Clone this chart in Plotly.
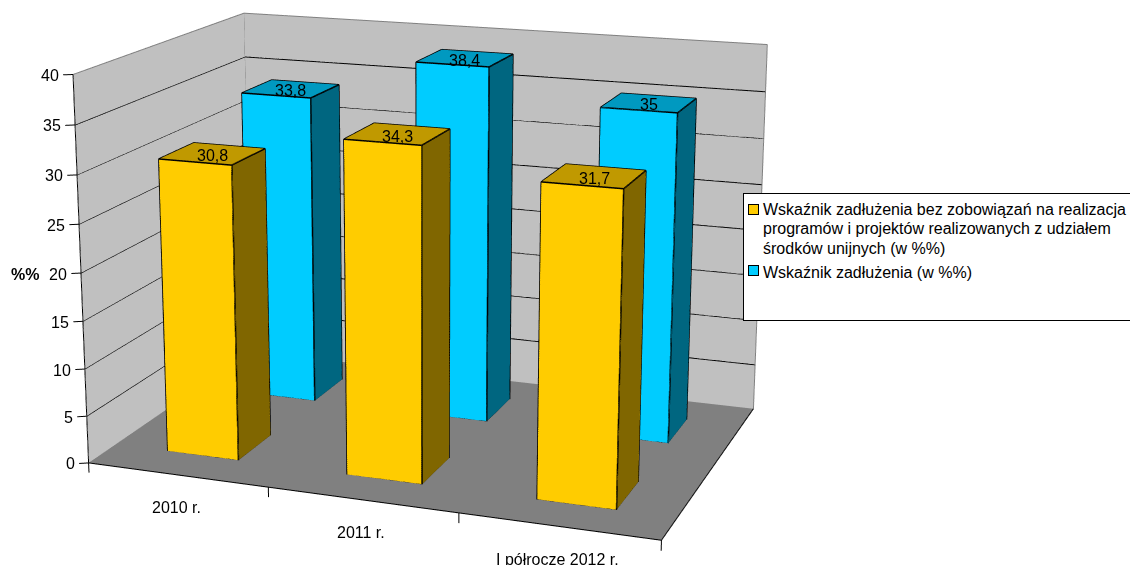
import plotly.graph_objects as go

categories = ["2010 r.", "2011 r.", "I półrocze 2012 r."]
s1_name = ["Wskaźnik zadłużenia bez zobowiązań na realizacja",
           "programów i projektów realizowanych z udziałem",
           "środków unijnych (w %%)"]
s2_name = ["Wskaźnik zadłużenia (w %%)"]
s1_vals = [30.8, 34.3, 31.7]
s2_vals = [33.8, 38.4, 35.0]
s1_lab = ["30,8", "34,3", "31,7"]
s2_lab = ["33,8", "38,4", "35"]
z_ticks = [0, 5, 10, 15, 20, 25, 30, 35, 40]
axis_title = "%%"
vals = [s1_vals, s2_vals]

# Plotly's lens is a fixed 45 degrees of the scene height, so the reference's long lens
# needs a scene taller than the window; the page shows only its 1130x565 part.
FIG_W, FIG_H = 1130, 1894
PX = 428.47
TOP = 710
ASPECT = (1.4935, 0.9944, 1.0)
EYE = (1.9407, -5.3318, 1.5274)
CENTER = (-0.0125, 0.0053, 0.0348)
HW = 0.2005
Y_RANGES = [(0.1494, 0.3499), (0.6516, 0.8493)]
BOX = ((0, 3), (0, 1), (0, 40))
RANGE = ((-0.05, 3.02), (-0.02, 1.02), (-1.2, 40.5))

YEL = ("#FFCC00", "#806600", "#C09900")
BLU = ("#00CCFF", "#006680", "#0099C0")
LIT = dict(ambient=1, diffuse=0, specular=0, roughness=1, fresnel=0)
FONT = dict(family="Liberation Sans, Arial, sans-serif", size=16, color="black")

scales = [ASPECT[i] / (BOX[i][1] - BOX[i][0]) for i in range(3)]
aspect2 = [scales[i] * (RANGE[i][1] - RANGE[i][0]) for i in range(3)]
shift = [scales[i] * ((BOX[i][0] + BOX[i][1]) / 2 - (RANGE[i][0] + RANGE[i][1]) / 2) for i in range(3)]
eye = [EYE[i] + shift[i] for i in range(3)]
center = [CENTER[i] + shift[i] for i in range(3)]


def lines(segs, color, width):
    x, y, z = [], [], []
    for seg in segs:
        for q in seg:
            x.append(q[0]); y.append(q[1]); z.append(q[2])
        x.append(None); y.append(None); z.append(None)
    return go.Scatter3d(x=x, y=y, z=z, mode="lines", line=dict(color=color, width=width),
                        showlegend=False, hoverinfo="skip")


traces = []
x1, y1, z1 = BOX[0][1], BOX[1][1], BOX[2][1]
traces.append(go.Mesh3d(x=[0, x1, x1, 0, 0, x1, x1, 0, 0, 0, 0, 0],
                        y=[0, 0, y1, y1, y1, y1, y1, y1, 0, y1, y1, 0],
                        z=[0, 0, 0, 0, 0, 0, z1, z1, 0, 0, z1, z1],
                        i=[0, 0, 4, 4, 8, 8], j=[1, 2, 5, 6, 9, 10], k=[2, 3, 6, 7, 10, 11],
                        facecolor=["#808080"] * 2 + ["#C0C0C0"] * 4, flatshading=True, lighting=LIT, hoverinfo="skip"))
traces.append(lines([[(0, 0, t), (0, y1, t), (x1, y1, t)] for t in z_ticks[1:-1]], "black", 2))
traces.append(lines([[(0, 0, z1), (0, y1, z1), (x1, y1, z1), (x1, y1, 0)], [(0, y1, 0), (0, y1, z1)]], "#808080", 2))
traces.append(lines([[(0, 0, z1), (0, 0, 0), (x1, 0, 0), (x1, y1, 0)]]
                    + [[(0, 0, t), (-0.041, -0.012, t)] for t in z_ticks]
                    + [[(c_, 0, 0), (c_, 0, -1.05)] for c_ in range(len(categories) + 1)], "black", 2))

for s, (vv, col) in enumerate(zip(vals, (YEL, BLU))):
    X, Y, Z, I, J, K, FC, segs = [], [], [], [], [], [], [], []
    y0, y2 = Y_RANGES[s]
    for c_, v in enumerate(vv):
        a, b = c_ + .5 - HW, c_ + .5 + HW
        base = len(X)
        px = [a, b, b, a, a, b, b, a]; py = [y0, y0, y2, y2, y0, y0, y2, y2]; pz = [0, 0, 0, 0, v, v, v, v]
        X += px; Y += py; Z += pz
        for q, cc in [((0, 1, 5, 4), col[0]), ((1, 2, 6, 5), col[1]), ((4, 5, 6, 7), col[2]),
                      ((3, 2, 6, 7), col[0]), ((0, 3, 7, 4), col[1]), ((0, 1, 2, 3), col[1])]:
            I += [base + q[0]] * 2; J += [base + q[1], base + q[2]]; K += [base + q[2], base + q[3]]; FC += [cc, cc]
        for path in [(0, 1, 2, 6, 5, 4, 0), (4, 7, 6), (1, 5)]:
            segs.append([(px[n], py[n], pz[n]) for n in path])
    traces.append(go.Mesh3d(x=X, y=Y, z=Z, i=I, j=J, k=K, facecolor=FC, flatshading=True, lighting=LIT, hoverinfo="skip"))
    traces.append(lines(segs, "black", 3))

scene_ann = []
for s, (vv, ll) in enumerate(zip(vals, (s1_lab, s2_lab))):
    for c_, (v, t) in enumerate(zip(vv, ll)):
        scene_ann.append(dict(x=c_ + .5, y=sum(Y_RANGES[s]) / 2, z=v, text=t, showarrow=False, font=FONT, yshift=-2))
for t in z_ticks:
    scene_ann.append(dict(x=0, y=0, z=t, text=str(t), showarrow=False, font=FONT, xanchor="right", xshift=-12, yshift=-1))
for c_, t in enumerate(categories):
    scene_ann.append(dict(x=c_ + .5, y=0, z=0, text=t, showarrow=False, font=FONT, yshift=-33, xshift=-1))


def X_(v):
    return v / FIG_W


def Y_(v):
    return 1 - (v + TOP) / FIG_H


A0 = dict(xref="paper", yref="paper", showarrow=False)
ann = [dict(text=" ", x=X_(743), y=Y_(193), xanchor="left", yanchor="top",
            width=390, height=126, bgcolor="white", bordercolor="black", borderwidth=1, borderpad=0, **A0)]
for yc, col in ((209, YEL[0]), (271, BLU[0])):
    ann.append(dict(text=" ", x=X_(753.8), y=Y_(yc), xanchor="center", yanchor="middle", width=9, height=9, bgcolor=col,
                    bordercolor="black", borderwidth=1, borderpad=0, font=dict(size=1), **A0))
for yc, t in zip((210, 229, 248, 272), s1_name + s2_name):
    ann.append(dict(text=t, x=X_(761), y=Y_(yc), xanchor="left", yanchor="middle", font=FONT, **A0))
ann.append(dict(text="<b>" + axis_title + "</b>", x=X_(25), y=Y_(274), xanchor="center", yanchor="middle", font=FONT, **A0))

ax = dict(visible=False, showspikes=False)
fig = go.Figure(traces)
fig.update_layout(
    width=FIG_W, height=FIG_H, margin=dict(l=0, r=0, t=0, b=0), paper_bgcolor="white", showlegend=False,
    scene=dict(domain=dict(x=[0, 2 * PX / FIG_W], y=[0, 1]), aspectmode="manual",
               aspectratio=dict(x=aspect2[0], y=aspect2[1], z=aspect2[2]),
               camera=dict(eye=dict(x=eye[0], y=eye[1], z=eye[2]), center=dict(x=center[0], y=center[1], z=center[2]),
                           up=dict(x=0, y=0, z=1)),
               xaxis=dict(range=list(RANGE[0]), **ax), yaxis=dict(range=list(RANGE[1]), **ax),
               zaxis=dict(range=list(RANGE[2]), **ax), annotations=scene_ann),
    annotations=ann)
fig.write_html("out.html", config=dict(displayModeBar=False), post_script=(
    "document.documentElement.style.overflow='hidden';document.body.style.overflow='hidden';"
    "document.body.style.margin='0';document.body.style.height='565px';"
    "document.querySelector('.plotly-graph-div').style.marginTop='%dpx';" % (-TOP)))
